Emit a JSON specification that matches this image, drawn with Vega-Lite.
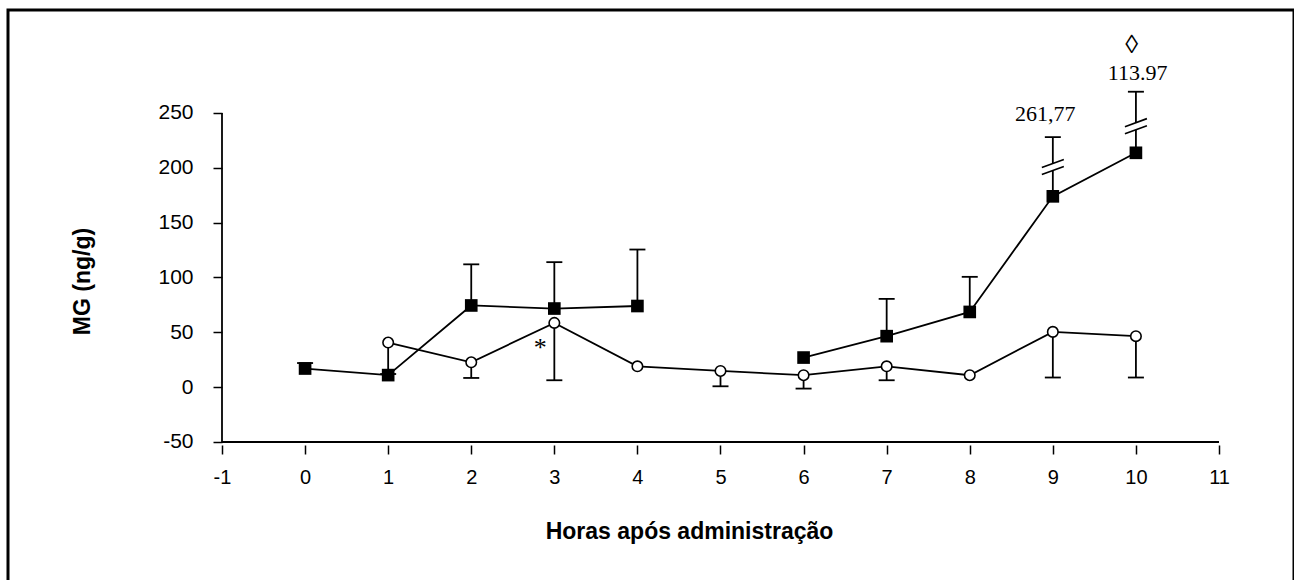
{
  "$schema": "https://vega.github.io/schema/vega-lite/v6.json",
  "autosize": "none",
  "width": 1286,
  "height": 572,
  "padding": {"left": 8, "top": 10, "right": 0, "bottom": 0},
  "background": "white",
  "config": {
    "view": {"stroke": "black", "strokeWidth": 3},
    "font": "Liberation Sans"
  },
  "datasets": {
    "eixos": [
      {"hora": -1, "hora_fim": -1, "valor": -50, "valor_fim": 250},
      {"hora": -1, "hora_fim": 11, "valor": -50, "valor_fim": -50}
    ],
    "pontos": [
      {"hora": 0, "serie": "A", "seg": "A1", "media": 17, "erro_fim": 22},
      {"hora": 1, "serie": "A", "seg": "A1", "media": 11, "erro_fim": null},
      {"hora": 2, "serie": "A", "seg": "A1", "media": 74.5, "erro_fim": 112},
      {"hora": 3, "serie": "A", "seg": "A1", "media": 71.7, "erro_fim": 114},
      {"hora": 4, "serie": "A", "seg": "A1", "media": 74, "erro_fim": 125.5},
      {"hora": 6, "serie": "A", "seg": "A2", "media": 27, "erro_fim": null},
      {"hora": 7, "serie": "A", "seg": "A2", "media": 46.5, "erro_fim": 80.5},
      {"hora": 8, "serie": "A", "seg": "A2", "media": 68.6, "erro_fim": 100.6},
      {"hora": 9, "serie": "A", "seg": "A2", "media": 174, "erro_fim": 228},
      {"hora": 10, "serie": "A", "seg": "A2", "media": 213.7, "erro_fim": 269.4},
      {"hora": 1, "serie": "B", "seg": "B", "media": 40.7, "erro_fim": 12},
      {"hora": 2, "serie": "B", "seg": "B", "media": 22.7, "erro_fim": 8.4},
      {"hora": 3, "serie": "B", "seg": "B", "media": 58.6, "erro_fim": 6.3},
      {"hora": 4, "serie": "B", "seg": "B", "media": 19, "erro_fim": null},
      {"hora": 5, "serie": "B", "seg": "B", "media": 14.8, "erro_fim": 0.8},
      {"hora": 6, "serie": "B", "seg": "B", "media": 10.9, "erro_fim": -1.3},
      {"hora": 7, "serie": "B", "seg": "B", "media": 19, "erro_fim": 6.3},
      {"hora": 8, "serie": "B", "seg": "B", "media": 10.9, "erro_fim": null},
      {"hora": 9, "serie": "B", "seg": "B", "media": 50.4, "erro_fim": 8.8},
      {"hora": 10, "serie": "B", "seg": "B", "media": 46.5, "erro_fim": 8.8}
    ],
    "quebras": [
      {"hora": 9, "valor": 200.7},
      {"hora": 10, "valor": 238}
    ],
    "notas": [
      {"hora": 8.91, "valor": 242.7, "texto": "261,77", "tipo": "num"},
      {"hora": 10.02, "valor": 280.1, "texto": "113.97", "tipo": "num"},
      {"hora": 2.83, "valor": 28, "texto": "*", "tipo": "sim"},
      {"hora": 9.95, "valor": 304.7, "texto": "◊", "tipo": "sim"}
    ]
  },
  "layer": [
    {
      "data": {"name": "eixos"},
      "mark": {"type": "rule", "color": "black", "strokeWidth": 1.8},
      "encoding": {
        "x": {
          "field": "hora", "type": "quantitative",
          "scale": {"domain": [-3.5757, 11.9027], "nice": false, "zero": false},
          "axis": {
            "title": "Horas após administração",
            "values": [-1, 0, 1, 2, 3, 4, 5, 6, 7, 8, 9, 10, 11],
            "labelExpr": "'' + datum.value",
            "offset": -137,
            "domain": false,
            "grid": false,
            "tickSize": 9,
            "tickWidth": 1.5,
            "tickColor": "black",
            "labelFont": "Liberation Sans",
            "labelFontSize": 20,
            "labelColor": "black",
            "labelBaseline": "alphabetic",
            "labelPadding": 29,
            "labelFlush": false,
            "labelOverlap": false,
            "titleFont": "Liberation Sans",
            "titleFontSize": 23,
            "titleFontWeight": "bold",
            "titleColor": "black",
            "titleBaseline": "alphabetic",
            "titleX": 681,
            "titleY": 93.5
          }
        },
        "x2": {"field": "hora_fim"},
        "y": {
          "field": "valor", "type": "quantitative",
          "scale": {"domain": [-177.66, 343.92], "nice": false, "zero": false},
          "axis": {
            "title": "MG (ng/g)",
            "values": [-50, 0, 50, 100, 150, 200, 250],
            "labelExpr": "'' + datum.value",
            "offset": -214,
            "domain": false,
            "grid": false,
            "tickSize": 9,
            "tickWidth": 1.5,
            "tickColor": "black",
            "labelFont": "Liberation Sans",
            "labelFontSize": 21,
            "labelColor": "black",
            "labelPadding": 20,
            "labelFlush": false,
            "labelOverlap": false,
            "titleFont": "Liberation Sans",
            "titleFontSize": 23,
            "titleFontWeight": "bold",
            "titleColor": "black",
            "titleBaseline": "alphabetic",
            "titleX": -133,
            "titleY": 271
          }
        },
        "y2": {"field": "valor_fim"}
      }
    },
    {
      "data": {"name": "pontos"},
      "mark": {"type": "line", "color": "black", "strokeWidth": 1.8},
      "encoding": {
        "x": {"field": "hora", "type": "quantitative", "scale": {"domain": [-3.5757, 11.9027], "nice": false, "zero": false}},
        "y": {"field": "media", "type": "quantitative", "scale": {"domain": [-177.66, 343.92], "nice": false, "zero": false}},
        "detail": {"field": "seg"},
        "order": {"field": "hora"}
      }
    },
    {
      "data": {"name": "pontos"},
      "transform": [{"filter": "isValid(datum.erro_fim)"}],
      "mark": {"type": "rule", "color": "black", "strokeWidth": 1.8},
      "encoding": {
        "x": {"field": "hora", "type": "quantitative", "scale": {"domain": [-3.5757, 11.9027], "nice": false, "zero": false}},
        "y": {"field": "media", "type": "quantitative", "scale": {"domain": [-177.66, 343.92], "nice": false, "zero": false}},
        "y2": {"field": "erro_fim"}
      }
    },
    {
      "data": {"name": "pontos"},
      "transform": [{"filter": "isValid(datum.erro_fim)"}],
      "mark": {"type": "tick", "orient": "horizontal", "color": "black", "size": 16, "thickness": 1.8, "opacity": 1},
      "encoding": {
        "x": {"field": "hora", "type": "quantitative", "scale": {"domain": [-3.5757, 11.9027], "nice": false, "zero": false}},
        "y": {"field": "erro_fim", "type": "quantitative", "scale": {"domain": [-177.66, 343.92], "nice": false, "zero": false}}
      }
    },
    {
      "data": {"name": "quebras"},
      "mark": {"type": "point", "shape": "M-1,0.045L1,-0.685L1,-0.045L-1,0.685Z", "filled": true, "fill": "white", "strokeWidth": 0, "opacity": 1, "size": 484},
      "encoding": {
        "x": {"field": "hora", "type": "quantitative", "scale": {"domain": [-3.5757, 11.9027], "nice": false, "zero": false}},
        "y": {"field": "valor", "type": "quantitative", "scale": {"domain": [-177.66, 343.92], "nice": false, "zero": false}}
      }
    },
    {
      "data": {"name": "quebras"},
      "mark": {"type": "point", "shape": "M-1,0.045L1,-0.685M-1,0.685L1,-0.045", "filled": false, "stroke": "black", "strokeWidth": 1.6, "opacity": 1, "size": 484},
      "encoding": {
        "x": {"field": "hora", "type": "quantitative", "scale": {"domain": [-3.5757, 11.9027], "nice": false, "zero": false}},
        "y": {"field": "valor", "type": "quantitative", "scale": {"domain": [-177.66, 343.92], "nice": false, "zero": false}}
      }
    },
    {
      "data": {"name": "pontos"},
      "transform": [{"filter": "datum.serie === 'B'"}],
      "mark": {"type": "point", "shape": "circle", "filled": true, "fill": "white", "stroke": "black", "strokeWidth": 1.6, "opacity": 1, "size": 110},
      "encoding": {
        "x": {"field": "hora", "type": "quantitative", "scale": {"domain": [-3.5757, 11.9027], "nice": false, "zero": false}},
        "y": {"field": "media", "type": "quantitative", "scale": {"domain": [-177.66, 343.92], "nice": false, "zero": false}}
      }
    },
    {
      "data": {"name": "pontos"},
      "transform": [{"filter": "datum.serie === 'A'"}],
      "mark": {"type": "point", "shape": "square", "filled": true, "color": "black", "opacity": 1, "size": 160},
      "encoding": {
        "x": {"field": "hora", "type": "quantitative", "scale": {"domain": [-3.5757, 11.9027], "nice": false, "zero": false}},
        "y": {"field": "media", "type": "quantitative", "scale": {"domain": [-177.66, 343.92], "nice": false, "zero": false}}
      }
    },
    {
      "data": {"name": "notas"},
      "transform": [{"filter": "datum.tipo === 'num'"}],
      "mark": {"type": "text", "font": "Liberation Serif", "fontSize": 22, "fill": "black", "align": "center", "baseline": "alphabetic"},
      "encoding": {
        "x": {"field": "hora", "type": "quantitative", "scale": {"domain": [-3.5757, 11.9027], "nice": false, "zero": false}},
        "y": {"field": "valor", "type": "quantitative", "scale": {"domain": [-177.66, 343.92], "nice": false, "zero": false}},
        "text": {"field": "texto"}
      }
    },
    {
      "data": {"name": "notas"},
      "transform": [{"filter": "datum.tipo === 'sim'"}],
      "mark": {"type": "text", "font": "Liberation Serif", "fontSize": 26, "fill": "black", "align": "center", "baseline": "alphabetic"},
      "encoding": {
        "x": {"field": "hora", "type": "quantitative", "scale": {"domain": [-3.5757, 11.9027], "nice": false, "zero": false}},
        "y": {"field": "valor", "type": "quantitative", "scale": {"domain": [-177.66, 343.92], "nice": false, "zero": false}},
        "text": {"field": "texto"}
      }
    }
  ]
}
